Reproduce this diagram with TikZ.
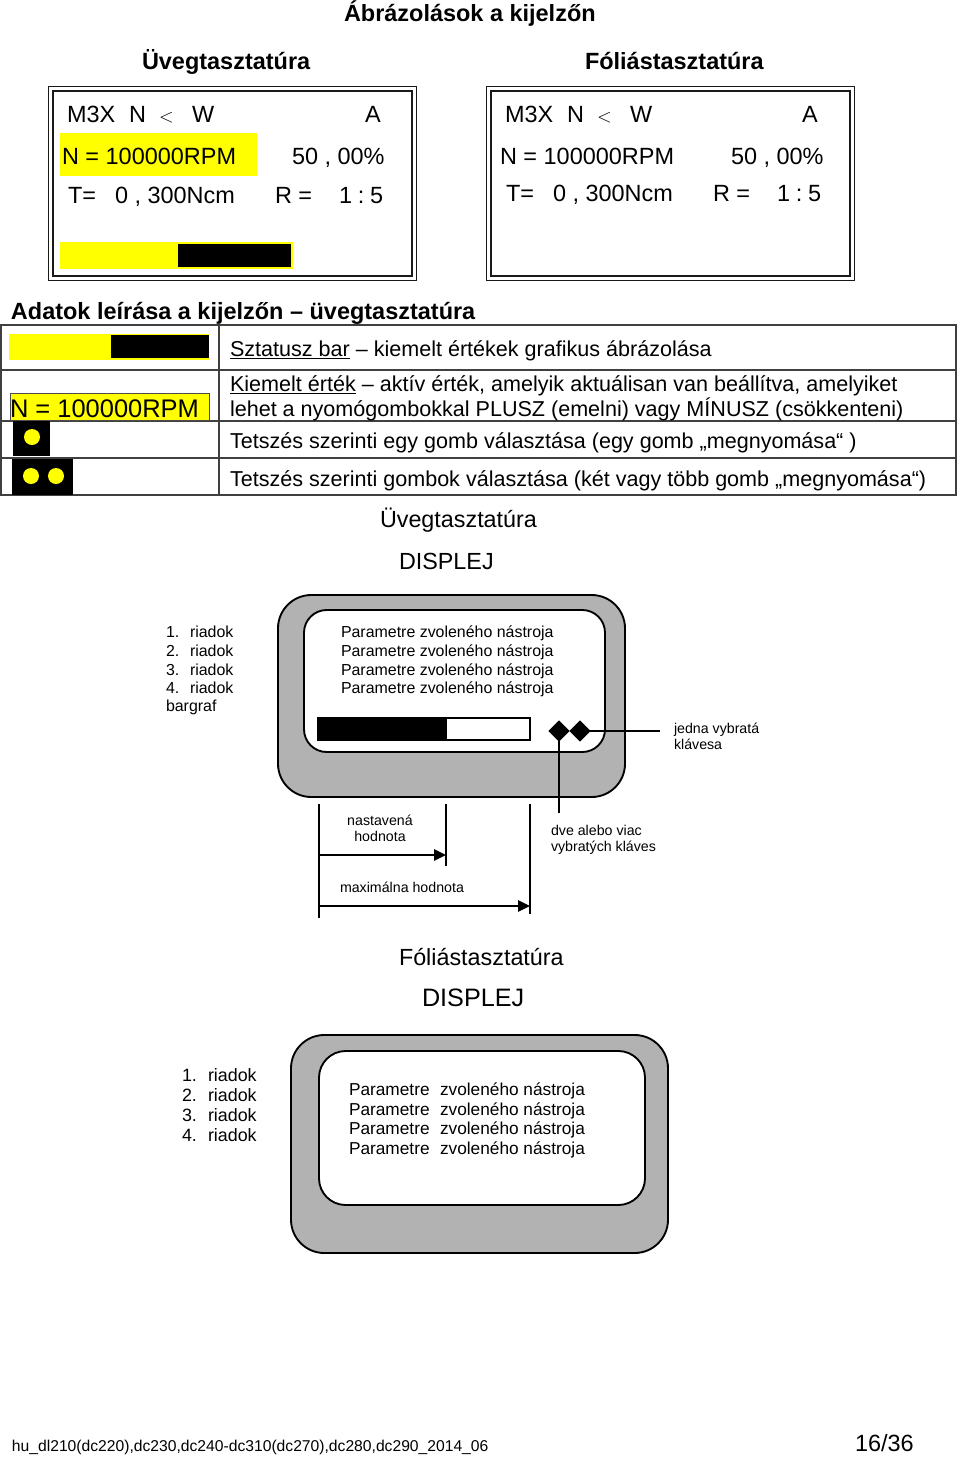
\documentclass[tikz,border=0pt]{standalone}
\usepackage{fontspec}
\setmainfont{Liberation Sans}
\usetikzlibrary{shapes.geometric,arrows.meta}
\definecolor{yel}{RGB}{255,255,0}
\newcommand\fsz[1]{\fontsize{#1}{#1}\selectfont}
\newcommand\ratio{1\hspace{4.3pt}:\hspace{4.3pt}5}
\tikzset{
  txt/.style={anchor=base west,inner sep=0pt,outer sep=0pt},
  lcd/.style={txt,font=\fsz{17.6}},
  headb/.style={txt,font=\fsz{17.6}\bfseries},
  rowt/.style={txt,font=\fsz{16.17}},
  disph/.style={txt,font=\fsz{17.5}},
  disphb/.style={txt,font=\fsz{18.9}},
  small/.style={txt,font=\fsz{11.95}},
  mid/.style={txt,font=\fsz{13.4}},
  midp/.style={txt,font=\fsz{12.95}},
  note/.style={txt,font=\fsz{10.65}},
  mark2/.style={diamond,fill=black,inner sep=0pt,minimum width=16pt,minimum height=16pt},
  frame/.style={draw=black!90,line width=1.3pt},
  grid/.style={draw=black!75,line width=.8pt},
  lead/.style={draw=black,line width=1.4pt},
  dimarrow/.style={draw=black,line width=1.4pt,-{Triangle[length=9pt,width=8.5pt]}},
  casing/.style={draw=black,line width=1.4pt,fill=black!30},
  screen/.style={draw=black,line width=1.4pt,fill=white}
}
\begin{document}
\begin{tikzpicture}[x=.75pt,y=-.75pt]
\useasboundingbox (0,0) rectangle (960,1457);
% titles
\node[headb] (title) at (344,21) {Ábrázolások a kijelzőn};
\node[headb] (hl) at (142,69) {Üvegtasztatúra};
\node[headb] (hr) at (585,69) {Fóliástasztatúra};
% left LCD
\draw[frame] (48.5,86.5) rectangle (416.5,280.5);
\draw[frame] (53,91) rectangle (412,276);
\fill[yel] (60,133) rectangle (257,176);
\fill[yel] (60,242) rectangle (293,269);
\fill[black] (178,244) rectangle (291,267);
\node[lcd] (l1) at (67,122) {M3X};
\node[lcd] (l2) at (129,122) {N};
\node[txt,font=\fsz{15}] (l3) at (159,122) {$<$};
\node[lcd] (l4) at (192,122) {W};
\node[lcd] (l5) at (365,122) {A};
\node[lcd] (l6) at (62,164) {N = 100000RPM};
\node[lcd] (l7) at (292,164) {50 , 00\%};
\node[lcd] (l8) at (68,203) {T=};
\node[lcd] (l9) at (115,203) {0 , 300Ncm};
\node[lcd] (l10) at (275,203) {R =};
\node[lcd] (l11) at (339,203) {\ratio};
% right LCD
\draw[frame] (486.5,86.5) rectangle (854.5,280.5);
\draw[frame] (491,91) rectangle (850,276);
\node[lcd] (r1) at (505,122) {M3X};
\node[lcd] (r2) at (567,122) {N};
\node[txt,font=\fsz{15}] (r3) at (597,122) {$<$};
\node[lcd] (r4) at (630,122) {W};
\node[lcd] (r5) at (802,122) {A};
\node[lcd] (r6) at (500,164) {N = 100000RPM};
\node[lcd] (r7) at (731,164) {50 , 00\%};
\node[lcd] (r8) at (506,201) {T=};
\node[lcd] (r9) at (553,201) {0 , 300Ncm};
\node[lcd] (r10) at (713,201) {R =};
\node[lcd] (r11) at (777,201) {\ratio};
% table
\node[headb] (adat) at (11,319) {Adatok leírása a kijelzőn – üvegtasztatúra};
\draw[grid] (1,325) rectangle (956,495);
\draw[grid] (1,370) -- (956,370);
\draw[grid] (1,421) -- (956,421);
\draw[grid] (1,458) -- (956,458);
\draw[grid] (219,325) -- (219,495);
\fill[yel] (9,334) rectangle (209,360);
\fill[black] (111,335) rectangle (209,358);
\filldraw[fill=yel,draw=black!70,line width=.6pt] (10,393) rectangle (209,420.5);
\node[txt,font=\fsz{19.1}] (tn) at (10,417) {N = 100000RPM};
\fill[black] (13,421) rectangle (50,456);
\fill[yel] (32,437) circle (8);
\fill[black] (12,459) rectangle (73,495);
\fill[yel] (31,476) circle (8);
\fill[yel] (56,476) circle (8);
\node[rowt] (t1) at (230,356) {\underline{Sztatusz bar} – kiemelt értékek grafikus ábrázolása};
\node[rowt] (t2) at (230,391) {\underline{Kiemelt érték} – aktív érték, amelyik aktuálisan van beállítva, amelyiket};
\node[rowt] (t3) at (230,416) {lehet a nyomógombokkal PLUSZ (emelni) vagy MÍNUSZ (csökkenteni)};
\node[rowt] (t4) at (230,448) {Tetszés szerinti egy gomb választása (egy gomb „megnyomása“ )};
\node[rowt] (t5) at (230,486) {Tetszés szerinti gombok választása (két vagy több gomb „megnyomása“)};
% display 1
\node[disph] (h1) at (380,527) {Üvegtasztatúra};
\node[disph] (h2) at (399,569) {DISPLEJ};
\draw[casing,rounded corners=25pt] (278,595) rectangle (625,797);
\draw[screen,rounded corners=17pt] (304,610) rectangle (605,752);
\foreach \n/\y in {1/637,2/656,3/675,4/693}{
  \node[small] (num\n) at (166,\y) {\n.};
  \node[small] (ria\n) at (190,\y) {riadok};
  \node[small] (par\n) at (341,\y) {Parametre zvoleného nástroja};
}
\node[small] (barg) at (166,711) {bargraf};
\draw[draw=black,line width=1pt,fill=white] (318,718) rectangle (530,740);
\fill[black] (318,718) rectangle (447,740);
\node[mark2] (d1) at (559,731) {};
\node[mark2] (d2) at (580,731) {};
\coordinate (c1) at (660,731);
\coordinate (c2) at (559,813);
\draw[lead] (d2.center) -- (c1);
\draw[lead] (d1.center) -- (c2);
\node[note] (j1) at (674,733) {jedna vybratá};
\node[note] (j2) at (674,749) {klávesa};
\node[note] (v1) at (551,835) {dve alebo viac};
\node[note] (v2) at (551,851) {vybratých kláves};
\node[note,anchor=base] (n1) at (380,825) {nastavená};
\node[note,anchor=base] (n2) at (380,841) {hodnota};
\node[note] (m1) at (340,892) {maximálna hodnota};
\coordinate (a1) at (319,804); \coordinate (a2) at (319,918);
\coordinate (b1) at (446,804); \coordinate (b2) at (446,866);
\coordinate (e1) at (530,804); \coordinate (e2) at (530,914);
\coordinate (f1) at (319,855); \coordinate (f2) at (446,855);
\coordinate (g1) at (319,906); \coordinate (g2) at (530,906);
\draw[lead] (a1) -- (a2);
\draw[lead] (b1) -- (b2);
\draw[lead] (e1) -- (e2);
\draw[dimarrow] (f1) -- (f2);
\draw[dimarrow] (g1) -- (g2);
% display 2
\node[disph] (h3) at (399,965) {Fóliástasztatúra};
\node[disphb] (h4) at (422,1006) {DISPLEJ};
\draw[casing,rounded corners=25pt] (291,1035) rectangle (668,1253);
\draw[screen,rounded corners=20pt] (319,1051) rectangle (645,1205);
\foreach \n/\y in {1/1081,2/1101,3/1121,4/1141}{
  \node[mid] (nb\n) at (182,\y) {\n.};
  \node[mid] (rb\n) at (208,\y) {riadok};
}
\foreach \n/\y in {1/1095,2/1115,3/1134,4/1154}{
  \node[midp] (pb\n) at (349,\y) {Parametre};
  \node[midp] (zb\n) at (440,\y) {zvoleného nástroja};
}
% footer
\node[txt,font=\fsz{11.75}] (foot) at (12,1451) {hu\_dl210(dc220),dc230,dc240-dc310(dc270),dc280,dc290\_2014\_06};
\node[txt,font=\fsz{17.6}] (page) at (855,1451) {16/36};
\end{tikzpicture}
\end{document}
